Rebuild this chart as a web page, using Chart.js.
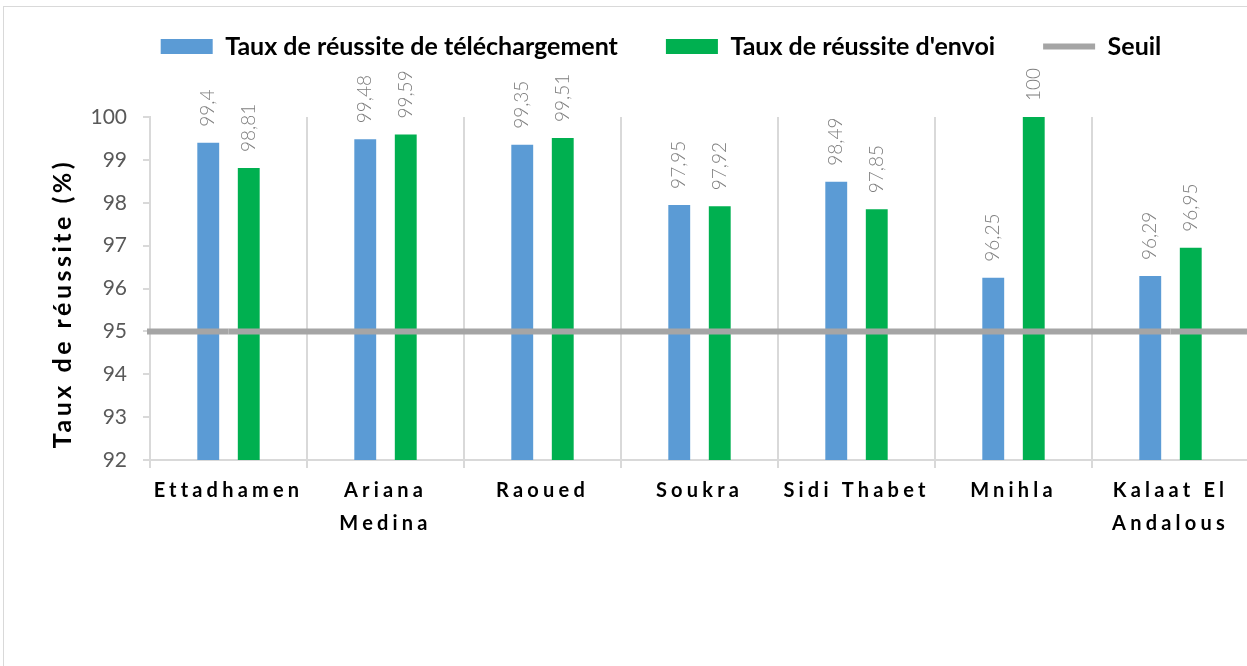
<!DOCTYPE html>
<html>
<head>
<meta charset="utf-8">
<script src="https://cdn.jsdelivr.net/npm/chart.js@4.4.0/dist/chart.umd.min.js"></script>
<style>
  html, body { margin: 0; padding: 0; background: #fff; overflow: hidden; }
  #frame { position: absolute; left: 3px; top: 6px; width: 1300px; height: 700px; border: 1px solid #d9d9d9; }
  #wrap { position: absolute; left: 0; top: 0; width: 1322px; height: 666px; }
</style>
</head>
<body>
<div id="frame"></div>
<div id="wrap"><canvas id="chart"></canvas></div>
<script>
// values
const communes = ['Ettadhamen', ['Ariana', 'Medina'], 'Raoued', 'Soukra', 'Sidi Thabet', 'Mnihla', ['Kalaat El', 'Andalous']];
const tauxTelechargement = [99.4, 99.48, 99.35, 97.95, 98.49, 96.25, 96.29];
const tauxEnvoi = [98.81, 99.59, 99.51, 97.92, 97.85, 100, 96.95];
const seuil = [95, 95, 95, 95, 95, 95, 95];
const yMin = 92;
const yMax = 100;
const yStep = 1;

// rotated value labels above the bars
const barValueLabels = {
  id: 'barValueLabels',
  afterDatasetsDraw(chart) {
    const ctx = chart.ctx;
    ctx.save();
    ctx.font = '300 19px Lato';
    ctx.fillStyle = '#7f7f7f';
    ctx.textAlign = 'left';
    ctx.textBaseline = 'middle';
    [0, 1].forEach((di) => {
      const meta = chart.getDatasetMeta(di);
      meta.data.forEach((bar, i) => {
        const v = chart.data.datasets[di].data[i];
        ctx.save();
        ctx.translate(bar.x, bar.y - 16);
        ctx.rotate(-Math.PI / 2);
        ctx.fillText(String(v).replace('.', ','), 0, 0);
        ctx.restore();
      });
    });
    ctx.restore();
  }
};

// the threshold line runs across the whole plot in the original,
// so carry the line dataset out to both edges of the chart area
const seuilEdges = {
  id: 'seuilEdges',
  afterDatasetsDraw(chart) {
    const meta = chart.getDatasetMeta(2);
    const pts = meta.data;
    if (!pts.length) return;
    const ds = chart.data.datasets[2];
    const area = chart.chartArea;
    const ctx = chart.ctx;
    ctx.save();
    ctx.strokeStyle = ds.borderColor;
    ctx.lineWidth = ds.borderWidth;
    ctx.lineCap = 'butt';
    ctx.beginPath();
    ctx.moveTo(area.left - 3, pts[0].y);
    ctx.lineTo(pts[0].x, pts[0].y);
    ctx.moveTo(pts[pts.length - 1].x, pts[pts.length - 1].y);
    ctx.lineTo(area.right, pts[pts.length - 1].y);
    ctx.stroke();
    ctx.restore();
  }
};

// category names and the y title are letter-spaced in the original
function spaced(fn, chart, spacing, dy) {
  return function (area) {
    chart.ctx.save();
    chart.ctx.letterSpacing = spacing;
    chart.ctx.translate(0, dy);
    fn(area);
    chart.ctx.restore();
  };
}
const spacedText = {
  id: 'spacedText',
  beforeDraw(chart) {
    const x = chart.scales.x;
    const y = chart.scales.y;
    if (x._spaced) return;
    x.drawLabels = spaced(x.drawLabels.bind(x), chart, '4.2px', 0);
    y.drawTitle = spaced(y.drawTitle.bind(y), chart, '3.5px', 15);
    x._spaced = true;
  }
};

const ctx = document.getElementById('chart').getContext('2d');
const chart = new Chart(ctx, {
  type: 'bar',
  data: {
    labels: communes,
    datasets: [
      {
        label: 'Taux de réussite de téléchargement',
        data: tauxTelechargement,
        backgroundColor: '#5b9bd5',
        pointStyle: 'rect',
        categoryPercentage: 0.516,
        barPercentage: 0.54,
        order: 1
      },
      {
        label: "Taux de réussite d'envoi",
        data: tauxEnvoi,
        backgroundColor: '#00b050',
        pointStyle: 'rect',
        categoryPercentage: 0.516,
        barPercentage: 0.54,
        order: 1
      },
      {
        type: 'line',
        label: 'Seuil',
        data: seuil,
        borderColor: '#a5a5a5',
        backgroundColor: '#a5a5a5',
        borderWidth: 6,
        borderCapStyle: 'butt',
        pointRadius: 0,
        pointStyle: 'line',
        order: 0
      }
    ]
  },
  options: {
    responsive: true,
    maintainAspectRatio: false,
    animation: false,
    layout: { padding: { top: -14, left: 0, right: 0, bottom: 0 } },
    plugins: {
      tooltip: { enabled: false },
      legend: {
        position: 'top',
        labels: {
          usePointStyle: true,
          pointStyleWidth: 52,
          boxHeight: 15,
          padding: 48,
          color: '#000',
          font: { family: 'Lato', weight: 'bold', size: 25 },
          sort: (a, b) => a.datasetIndex - b.datasetIndex
        }
      },
      // empty title used as a spacer between legend and plot
      title: {
        display: true,
        text: '',
        weight: 0,
        font: { size: 1, lineHeight: 1 },
        padding: { top: 47, bottom: 0 }
      }
    },
    scales: {
      x: {
        grid: { offset: true, color: '#d9d9d9', lineWidth: 2, tickLength: 8 },
        border: { color: '#d9d9d9', width: 2 },
        ticks: {
          color: '#000',
          font: { family: 'Lato', weight: 'bold', size: 20, lineHeight: 1.65 },
          padding: 6,
          autoSkip: false,
          maxRotation: 0
        },
        afterFit: (s) => { s.height = 206; }
      },
      y: {
        min: yMin,
        max: yMax,
        ticks: { stepSize: yStep, color: '#595959', font: { family: 'Lato', size: 21 }, padding: 16 },
        grid: { drawOnChartArea: false, color: '#d9d9d9', lineWidth: 2, tickLength: 7 },
        border: { color: '#d9d9d9', width: 2 },
        title: {
          display: true,
          text: 'Taux de réussite (%)',
          color: '#000',
          font: { family: 'Lato', weight: 'bold', size: 25 },
          padding: { top: 48, bottom: 0 }
        },
        afterFit: (s) => { s.width = 150; }
      },
      yRight: {
        position: 'right',
        ticks: { display: false },
        grid: { display: false },
        border: { display: false },
        afterFit: (s) => { s.width = 73; }
      }
    }
  },
  plugins: [seuilEdges, barValueLabels, spacedText]
});
</script>
</body>
</html>
